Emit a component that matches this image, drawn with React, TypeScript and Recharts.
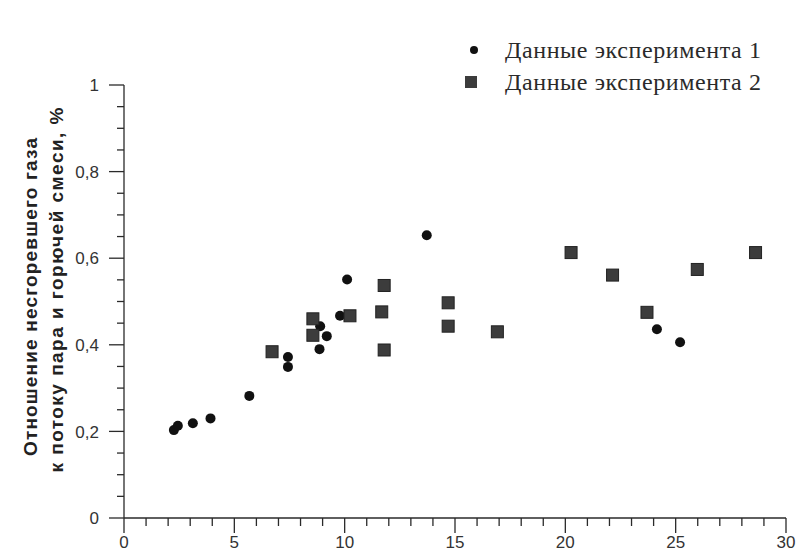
import { ScatterChart, Scatter, XAxis, YAxis, Legend } from 'recharts'

const exp1X = [2.26, 2.44, 3.12, 3.92, 5.68, 7.43, 7.43, 8.86, 8.89, 9.19, 9.79, 10.11, 13.72, 24.15, 25.2]
const exp1Y = [0.203, 0.213, 0.219, 0.23, 0.282, 0.372, 0.349, 0.39, 0.443, 0.42, 0.467, 0.551, 0.653, 0.436, 0.406]

const exp2X = [6.71, 8.56, 8.56, 10.24, 11.79, 11.68, 11.79, 14.69, 14.69, 16.92, 20.26, 22.14, 23.7, 25.98, 28.62]
const exp2Y = [0.384, 0.46, 0.422, 0.467, 0.537, 0.476, 0.388, 0.497, 0.443, 0.43, 0.613, 0.561, 0.475, 0.574, 0.613]

const xTicks = [0, 1, 2, 3, 4, 5, 6, 7, 8, 9, 10, 11, 12, 13, 14, 15, 16, 17, 18, 19, 20, 21, 22, 23, 24, 25, 26, 27, 28, 29, 30]
const yTicks = [0, 0.05, 0.1, 0.15, 0.2, 0.25, 0.3, 0.35, 0.4, 0.45, 0.5, 0.55, 0.6, 0.65, 0.7, 0.75, 0.8, 0.85, 0.9, 0.95, 1]

const seriesNames = ['Данные эксперимента 1', 'Данные эксперимента 2']
const yTitle = ['Отношение несгоревшего газа', 'к потоку пара и горючей смеси, %']

const data1 = exp1X.map((x, i) => ({ x, y: exp1Y[i] }))
const data2 = exp2X.map((x, i) => ({ x, y: exp2Y[i] }))

const sans = '"Liberation Sans", Arial, sans-serif'
const serif = '"Liberation Serif", "Times New Roman", serif'
const ink = '#2a2a2a'

const XTick = ({ x, y, payload }: any) => {
  const major = payload.value % 5 === 0
  return (
    <g>
      <line x1={x} y1={y} x2={x} y2={y + (major ? 15 : 8)} stroke={ink} strokeWidth={1.3} />
      {major && (
        <text x={x} y={y + 30} textAnchor="middle" fontSize={17} fontFamily={sans} fill="#333">
          {payload.value}
        </text>
      )}
    </g>
  )
}

const YTick = ({ x, y, payload }: any) => {
  const v = payload.value
  const major = Math.abs(v * 5 - Math.round(v * 5)) < 1e-6
  return (
    <g>
      <line x1={x - (major ? 15 : 7)} y1={y} x2={x} y2={y} stroke={ink} strokeWidth={1.3} />
      {major && (
        <text x={x - 25} y={y} dy="0.36em" textAnchor="end" fontSize={17} fontFamily={sans} fill="#333">
          {String(Math.round(v * 10) / 10).replace('.', ',')}
        </text>
      )}
    </g>
  )
}

const Dot = ({ cx, cy }: any) => <circle cx={cx} cy={cy} r={5} fill="#111" />
const Box = ({ cx, cy }: any) => (
  <rect x={cx - 6} y={cy - 6} width={12} height={12} fill="#3c3c3c" stroke="#222" strokeWidth={1} />
)

const LegendBox = () => (
  <div style={{ fontFamily: serif, fontSize: 24, color: ink, letterSpacing: 0.6 }}>
    {seriesNames.map((name, i) => (
      <div key={name} style={{ display: 'flex', alignItems: 'center', height: 32 }}>
        <svg width={24} height={24} style={{ flexShrink: 0 }}>
          {i === 0 ? (
            <circle cx={12} cy={12} r={4} fill="#111" />
          ) : (
            <rect x={3} y={6} width={12} height={12} fill="#3c3c3c" />
          )}
        </svg>
        <span style={{ marginLeft: 19, whiteSpace: 'nowrap' }}>{name}</span>
      </div>
    ))}
  </div>
)

const YTitle = () => (
  <g fontFamily={sans} fontWeight="bold" fontSize={19} fill="#222" textAnchor="middle">
    <text transform="translate(30, 297) rotate(-90)" dy="0.35em" textLength={318} lengthAdjust="spacing">
      {yTitle[0]}
    </text>
    <text transform="translate(56, 290) rotate(-90)" dy="0.35em" textLength={365} lengthAdjust="spacing">
      {yTitle[1]}
    </text>
  </g>
)

export default function App() {
  return (
    <div style={{ position: 'absolute', left: 0, top: 0, width: 799, height: 553, background: '#fff' }}>
      <ScatterChart width={799} height={553} margin={{ top: 85, right: 13, bottom: 0, left: 0 }}>
        <XAxis
          type="number"
          dataKey="x"
          domain={[0, 30]}
          ticks={xTicks}
          interval={0}
          height={35}
          tick={<XTick />}
          tickLine={false}
          tickSize={0}
          tickMargin={0}
          axisLine={{ stroke: ink, strokeWidth: 1.3 }}
        />
        <YAxis
          type="number"
          dataKey="y"
          domain={[0, 1]}
          ticks={yTicks}
          interval={0}
          width={124}
          tick={<YTick />}
          tickLine={false}
          tickSize={0}
          tickMargin={0}
          axisLine={{ stroke: ink, strokeWidth: 1.3 }}
        />
        <Legend
          layout="vertical"
          align="center"
          verticalAlign="middle"
          content={<LegendBox />}
          wrapperStyle={{ left: 462, top: 34, width: 330 }}
        />
        <Scatter name={seriesNames[0]} data={data1} shape={<Dot />} isAnimationActive={false} />
        <Scatter name={seriesNames[1]} data={data2} shape={<Box />} isAnimationActive={false} />
        <YTitle />
      </ScatterChart>
    </div>
  )
}
